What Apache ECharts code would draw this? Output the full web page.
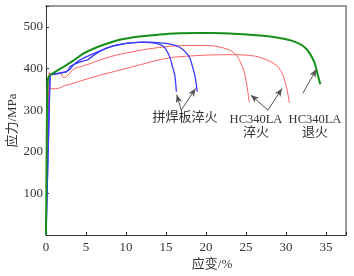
<!DOCTYPE html>
<html>
<head>
<meta charset="utf-8">
<script src="https://cdn.jsdelivr.net/npm/echarts@6/dist/echarts.min.js"></script>
<style>html,body{margin:0;padding:0;background:#fff}#c{width:354px;height:276px}</style>
</head>
<body>
<div id="c"></div>
<script>
// Strain (%) , stress (MPa) pairs
const greenAnnealed = [[0,0],[0.05,120],[0.1,250],[0.15,340],[0.25,376],[0.5,384],[1,390],[2.2,404],[3.5,420],[4.7,436],[6,448],[7.2,457],[9.2,469],[11.7,477],[14,481],[16,484],[19,485],[21,485],[23,484],[25.5,481],[27.5,478],[29,474],[30.5,468],[31.7,459],[32.5,448],[33.1,432],[33.6,412],[33.9,390],[34.1,375],[34.3,362]];
const blueWeldedA = [[0,0],[0.2,150],[0.4,300],[0.55,384],[1,386],[2,390],[2.6,392],[3,404],[3.9,413],[4.7,418],[5.2,421],[6,432],[7,444],[8,452],[9,457],[10,460],[11,462],[12,463],[13,462],[14,459],[14.6,454],[15,446],[15.5,426],[15.8,405],[16.1,384],[16.3,344]];
const blueWeldedB = [[0,0],[0.2,150],[0.4,300],[0.55,386],[1,387],[1.6,388],[2.3,391],[3,398],[3.5,410],[4.5,423],[6,436],[8,451],[10,460],[11,462],[12,463],[13,463],[14,462],[15,460],[16,456],[16.7,451],[17.4,440],[18,424],[18.3,405],[18.6,384],[18.8,360],[18.9,344]];
const redQuenchA = [[0,0],[0.15,200],[0.3,330],[0.4,390],[0.5,385],[1,386],[1.8,388],[2.2,378],[2.6,381],[3.2,394],[3.6,400],[4.3,404],[5,408],[6,415],[7,422],[8,428],[9,433],[10.5,439],[12.2,445],[14,450],[16,454],[18,455],[20,455],[21,454],[22,450],[23,444],[23.8,432],[24.3,415],[24.8,390],[25.1,360],[25.3,335],[25.4,320]];
const redQuenchB = [[0,0],[0.15,150],[0.3,300],[0.45,352],[1,351],[1.7,353],[2.2,358],[3,362],[4,368],[5.5,377],[7,385],[8,390],[10,400],[12,410],[14,420],[16,427],[18,430],[20,432],[22,433],[24,433],[26,430],[27,425],[28.2,415],[29,404],[29.6,385],[30,360],[30.3,332],[30.4,318]];
const xTicks = [0,5,10,15,20,25,30,35];
const yTicks = [100,200,300,400,500];
const labelWelded = '拼焊板淬火';
const labelHC = 'HC340LA';
const labelQ = '淬火';
const labelA = '退火';
// annotation arrows in data coords: [start, tip]
const arrowsWelded = [[[16.9,300],[16.35,337]],[[16.9,300],[18.7,352]]];
const arrowsHCQ = [[[27.75,300],[25.6,336]],[[27.75,300],[29.5,352]]];
const arrowsHCA = [[[32.1,340],[33.8,398]]];

const FONT = '"Liberation Serif","Noto Sans CJK SC",serif';
const chart = echarts.init(document.getElementById('c'), null, {renderer:'canvas'});

function arrowLines(list){
  return list.map(a => [{coord:a[0], symbol:'none'},{coord:a[1], symbol:'arrow', symbolSize:[5,8]}]);
}
function lineSeries(data, color, width){
  return {type:'line', data, showSymbol:false, symbol:'none', smooth:0.2,
    lineStyle:{color, width}, xAxisIndex:0, yAxisIndex:0, animation:false, z:3};
}
const allArrows = arrowLines(arrowsWelded.concat(arrowsHCQ, arrowsHCA));

chart.setOption({
  animation:false,
  backgroundColor:'#fff',
  grid:{left:46, right:8, top:6, bottom:41, containLabel:false, outerBoundsMode:'none'},
  xAxis:[{
    type:'value', min:0, max:37.5, interval:5,
    name:'应变/%', nameLocation:'middle', nameGap:23, nameMoveOverlap:false,
    nameTextStyle:{fontFamily:FONT, fontSize:13, color:'#333', padding:[0,0,0,32]},
    axisLine:{onZero:false, lineStyle:{color:'#333', width:1}},
    axisTick:{inside:true, length:3, lineStyle:{color:'#333'}},
    axisLabel:{fontFamily:FONT, fontSize:13, color:'#333', margin:6,
      formatter:v => xTicks.includes(v) ? String(v) : ''},
    splitLine:{show:false}
  },{
    type:'value', position:'top', min:0, max:37.5,
    axisLine:{show:true, onZero:false, lineStyle:{color:'#999', width:2}},
    axisTick:{show:false}, axisLabel:{show:false}, splitLine:{show:false}
  }],
  yAxis:[{
    type:'value', min:0, max:550, interval:100,
    name:'应力/MPa', nameLocation:'middle', nameGap:27, nameMoveOverlap:false,
    nameTextStyle:{fontFamily:FONT, fontSize:13, color:'#333'},
    axisLine:{onZero:false, lineStyle:{color:'#333', width:1}},
    axisTick:{inside:true, length:3, lineStyle:{color:'#333'}},
    axisLabel:{fontFamily:FONT, fontSize:13, color:'#333', margin:3,
      formatter:v => yTicks.includes(v) ? String(v) : ''},
    splitLine:{show:false}
  },{
    type:'value', position:'right', min:0, max:550,
    axisLine:{show:true, onZero:false, lineStyle:{color:'#999', width:2}},
    axisTick:{show:false}, axisLabel:{show:false}, splitLine:{show:false}
  }],
  series:[
    lineSeries(redQuenchB, '#ff5b5b', 1),
    lineSeries(redQuenchA, '#ff5b5b', 1),
    lineSeries(blueWeldedA, '#3b3bff', 1.3),
    lineSeries(blueWeldedB, '#3b3bff', 1.3),
    lineSeries(greenAnnealed, '#16901a', 2),
    {type:'line', data:[], xAxisIndex:0, yAxisIndex:0,
     markLine:{silent:true, animation:false, symbol:['none','arrow'], label:{show:false},
       lineStyle:{color:'#555', width:1, type:'solid'}, emphasis:{disabled:true},
       data: allArrows}}
  ],
  graphic:[
    {type:'text', x:185, y:118, style:{text:labelWelded, font:'13px '+FONT, fill:'#333', align:'center', verticalAlign:'middle'}},
    {type:'text', x:256, y:119.5, style:{text:labelHC, font:'12.5px '+FONT, fill:'#333', align:'center', verticalAlign:'middle'}},
    {type:'text', x:256, y:133, style:{text:labelQ, font:'13px '+FONT, fill:'#333', align:'center', verticalAlign:'middle'}},
    {type:'text', x:315, y:119.5, style:{text:labelHC, font:'12.5px '+FONT, fill:'#333', align:'center', verticalAlign:'middle'}},
    {type:'text', x:315, y:133, style:{text:labelA, font:'13px '+FONT, fill:'#333', align:'center', verticalAlign:'middle'}}
  ]
});
</script>
</body>
</html>
